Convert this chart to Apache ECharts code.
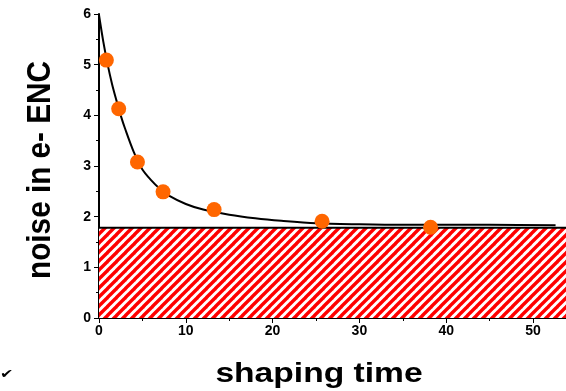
<!DOCTYPE html>
<html>
<head>
<meta charset="utf-8">
<script src="https://cdn.jsdelivr.net/npm/echarts@6/dist/echarts.min.js"></script>
<style>html,body{margin:0;padding:0;background:#fff}#c{width:566px;height:391px}</style>
</head>
<body>
<div id="c"></div>
<script>
// measured points (shaping time, noise)
const pointX = [0.85, 2.27, 4.43, 7.38, 13.26, 25.7, 38.2];
const pointY = [5.09, 4.13, 3.08, 2.49, 2.14, 1.91, 1.79];
// fitted curve
const curveX = [0, 0.5, 1, 1.5, 2, 2.5, 3, 4, 5, 6, 7, 8, 10, 12, 15, 18, 21, 25, 30, 35, 40, 45, 52.6];
const curveY = [5.98, 5.45, 5.0, 4.62, 4.3, 4.0, 3.74, 3.28, 2.93, 2.72, 2.55, 2.42, 2.25, 2.14, 2.04, 1.97, 1.92, 1.87, 1.85, 1.84, 1.84, 1.84, 1.83];
// hatched floor level
const floorX = [0, 53.8];
const floorY = [1.78, 1.78];
const xTicks = [0, 10, 20, 30, 40, 50];
const xTitle = 'shaping time';
const yTitle = 'noise in e- ENC';

function hatch() {
  const s = 9;
  const c = document.createElement('canvas');
  c.width = s; c.height = s;
  const g = c.getContext('2d');
  g.fillStyle = '#ffffff'; g.fillRect(0, 0, s, s);
  g.strokeStyle = '#ff0000'; g.lineWidth = 3.4;
  for (let k = -1; k <= 1; k++) {
    g.beginPath();
    g.moveTo(k * s - 1, s + 1);
    g.lineTo(k * s + s + 1, -1);
    g.stroke();
  }
  return c;
}

const chart = echarts.init(document.getElementById('c'), null, {renderer: 'canvas'});
const font = 'Liberation Sans, Arial, sans-serif';
chart.setOption({
  animation: false,
  grid: {left: 99, right: 0, top: 14, bottom: 73},
  xAxis: {
    type: 'value', min: 0, max: 53.8, interval: 10,
    axisLine: {lineStyle: {color: '#000', width: 2}},
    axisTick: {length: 5, lineStyle: {color: '#000', width: 1}, customValues: xTicks},
    minorTick: {show: true, splitNumber: 2, length: 3, lineStyle: {color: '#000'}},
    splitLine: {show: false},
    axisLabel: {fontFamily: font, fontWeight: 'bold', fontSize: 14, color: '#000', margin: 6, customValues: xTicks}
  },
  yAxis: {
    type: 'value', min: 0, max: 6, interval: 1,
    axisLine: {lineStyle: {color: '#000', width: 2}},
    axisTick: {length: 5, lineStyle: {color: '#000', width: 1}},
    minorTick: {show: true, splitNumber: 2, length: 3, lineStyle: {color: '#000'}},
    splitLine: {show: false},
    axisLabel: {fontFamily: font, fontWeight: 'bold', fontSize: 14, color: '#000', margin: 8}
  },
  graphic: [
    {type: 'text', x: 319, y: 374, scaleX: 1.2,
     style: {text: xTitle, font: 'bold 28px ' + font, fill: '#000', align: 'center', verticalAlign: 'middle'}},
    {type: 'text', x: 41, y: 170, rotation: Math.PI / 2, scaleX: 0.9,
     style: {text: yTitle, font: 'bold 33px ' + font, fill: '#000', align: 'center', verticalAlign: 'middle'}},
    {type: 'text', x: 0, y: 375, scaleY: 0.8, style: {text: '✔', font: '16px DejaVu Sans', fill: '#000', verticalAlign: 'middle'}}
  ],
  series: [
    {
      type: 'line', data: floorX.map((x, i) => [x, floorY[i]]), symbol: 'none',
      lineStyle: {color: '#000', width: 2},
      areaStyle: {color: {image: hatch(), repeat: 'repeat'}, opacity: 1},
      z: 1
    },
    {
      type: 'line', data: curveX.map((x, i) => [x, curveY[i]]), symbol: 'none', smooth: 0.3,
      lineStyle: {color: '#000', width: 2}, z: 2
    },
    {
      type: 'scatter', data: pointX.map((x, i) => [x, pointY[i]]), symbolSize: 15,
      itemStyle: {color: '#ff6600', opacity: 1}, z: 3
    }
  ]
});
</script>
</body>
</html>
